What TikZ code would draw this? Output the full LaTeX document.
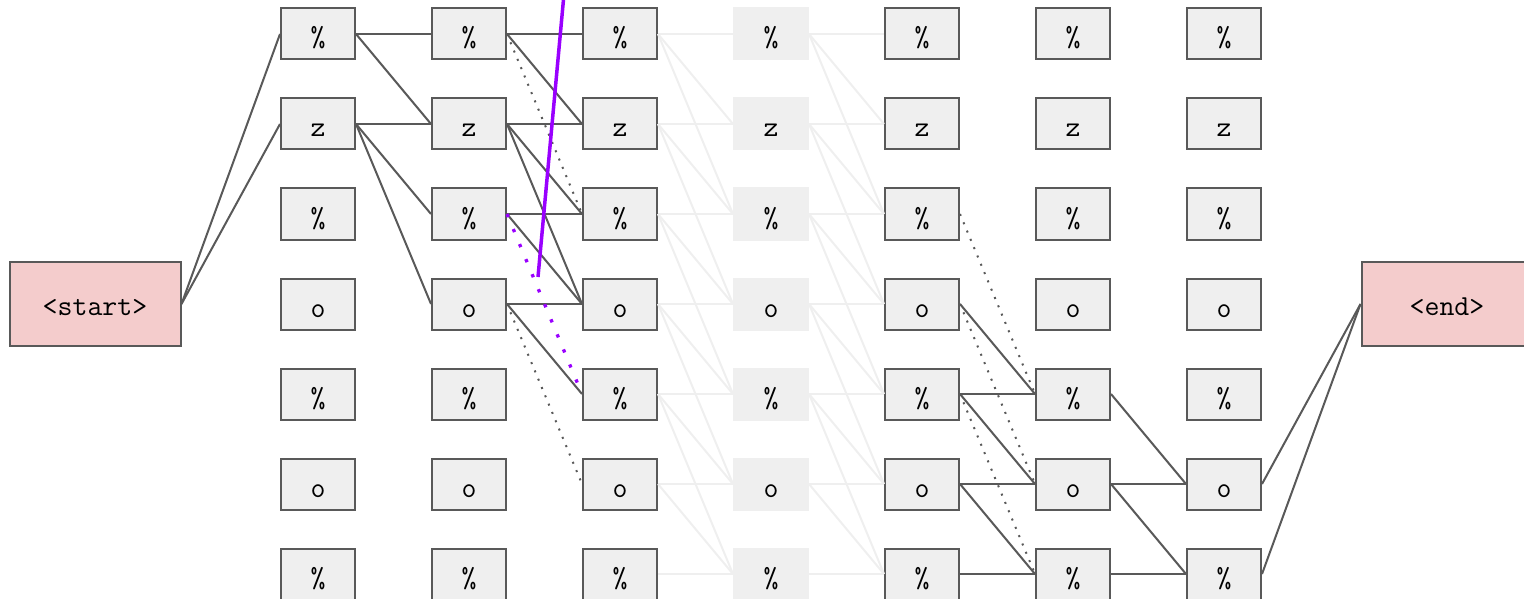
\documentclass[tikz,border=0pt]{standalone}
\definecolor{edge}{HTML}{595959}
\definecolor{cell}{HTML}{EFEFEF}
\definecolor{tag}{HTML}{F4CCCC}
\definecolor{trace}{HTML}{9900FF}
\begin{document}
\begin{tikzpicture}[x=1pt, y=-1pt,
    box/.style={draw=edge, line width=2pt, fill=cell, minimum width=74pt, minimum height=51pt,
        inner sep=0pt, font=\ttfamily\fontsize{29}{34}\selectfont, text height=26pt, text depth=0pt},
    fadebox/.style={box, draw=none, minimum width=76pt, minimum height=53pt, outer sep=0pt},
    tagbox/.style={box, fill=tag, minimum width=171pt, minimum height=84pt, text height=22pt},
    link/.style={draw=edge, line width=2pt},
    hint/.style={draw=edge, line width=2pt, dash pattern=on 2pt off 7pt},
    faint/.style={draw=cell, line width=2pt},
    pathline/.style={draw=trace, line width=3.5pt},
    pathdots/.style={draw=trace, line width=3.3pt, dash pattern=on 3.3pt off 13pt}]
    \useasboundingbox (0,0) rectangle (1524,599);
    % Start and end tokens
    \node[tagbox] (bos) at (95,304) {<start>};
    \node[tagbox] (eos) at (1447,304) {<end>};
    % Grid of cells
    \foreach \c/\x in {1/318,2/469,3/620,5/922,6/1073,7/1224}
        \foreach \r/\t in {1/\%,2/z,3/\%,4/o,5/\%,6/o,7/\%}
            \node[box] (c\c-\r) at (\x,{34+90*(\r-1)}) {\t};
    % Faded column
    \foreach \r/\t in {1/\%,2/z,3/\%,4/o,5/\%,6/o,7/\%}
        \node[fadebox] (c4-\r) at (771,{34+90*(\r-1)}) {\t};
    % Faint fan-out through the faded column
    \foreach \a/\b in {3/4,4/5}
        \foreach \r in {1,...,7}
            \foreach \d in {0,1,2}{
                \pgfmathtruncatemacro\s{\r+\d}
                \ifnum\s<8 \draw[faint] (c\a-\r.east) -- (c\b-\s.west); \fi
            }
    % Kept links
    \foreach \p/\q in {bos/c1-1, bos/c1-2, c1-1/c2-1, c1-1/c2-2, c1-2/c2-2, c1-2/c2-3, c1-2/c2-4,
        c2-1/c3-1, c2-1/c3-2, c2-2/c3-2, c2-2/c3-3, c2-2/c3-4, c2-3/c3-3, c2-3/c3-4,
        c2-4/c3-4, c2-4/c3-5, c5-4/c6-5, c5-5/c6-5, c5-5/c6-6, c5-6/c6-6, c5-6/c6-7,
        c5-7/c6-7, c6-5/c7-6, c6-6/c7-6, c6-6/c7-7, c6-7/c7-7, c7-6/eos, c7-7/eos}
        \draw[link] (\p.east) -- (\q.west);
    % Dotted links
    \foreach \p/\q in {c2-1/c3-3, c2-4/c3-6, c5-3/c6-5, c5-4/c6-6, c5-5/c6-7}
        \draw[hint] (\p.east) -- (\q.west);
    % Purple trace
    \draw[pathdots] (c2-3.east) -- (c3-5.west);
    \coordinate (pen-a) at (538,277);
    \coordinate (pen-b) at (564,-6);
    \draw[pathline] (pen-a) -- (pen-b);
\end{tikzpicture}
\end{document}
